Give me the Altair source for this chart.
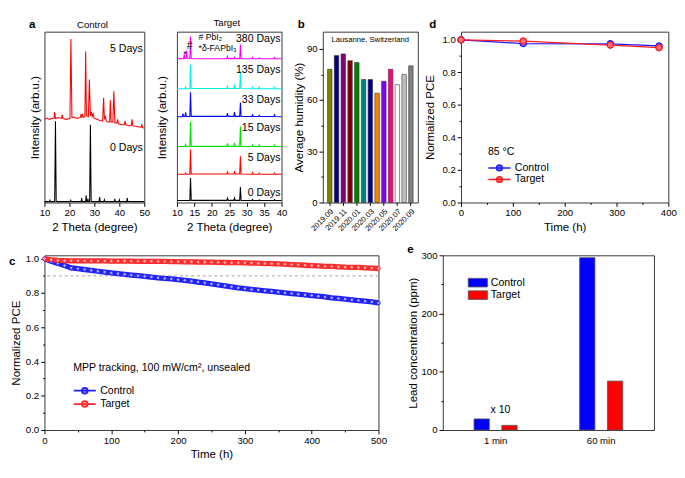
import altair as alt
import pandas as pd

FONT = "Liberation Sans"

# ---------------- panel a : XRD, Control film (2theta, intensity arb.u.) ----------------
ctrl_0days = [(10, 1), (12.0, 1), (12.2, 2.5), (12.4, 1), (14.1, 1), (14.4, 90), (14.7, 1),
              (20.3, 1), (20.5, 2.5), (20.7, 1), (24.7, 1), (24.9, 5), (25.1, 1), (26.5, 1),
              (26.7, 8), (26.9, 1), (27.2, 1), (27.4, 4), (27.6, 1), (28.1, 1), (28.4, 86),
              (28.7, 1), (31.9, 1), (32.1, 6), (32.3, 1), (33.8, 1), (34.0, 3), (34.2, 1),
              (38.0, 1), (38.2, 4), (38.4, 1), (39.8, 1), (40.0, 3), (40.2, 1), (43.0, 1),
              (43.2, 5), (43.4, 1), (50, 1)]
ctrl_5days = [(10, 92), (11, 93.5), (12, 92), (13, 93), (13.8, 93), (14.1, 100), (14.4, 93),
              (15.5, 94), (16.8, 93), (17.1, 97), (17.4, 93), (18.5, 92), (20.2, 93), (20.6, 181),
              (21.0, 94), (22, 94.5), (23, 93), (24.3, 94), (24.6, 97), (24.9, 95), (25.2, 98),
              (25.5, 94), (26.2, 95), (26.5, 167), (26.8, 96), (27.6, 95), (28.0, 136), (28.4, 96),
              (28.8, 100), (29.1, 95), (29.5, 98), (29.9, 93), (31, 92), (32, 91), (33.3, 90),
              (33.7, 116), (34.0, 92), (34.4, 95), (34.8, 90), (35.5, 89), (36.1, 89), (36.4, 113),
              (36.7, 89), (37.4, 89), (37.8, 123), (38.2, 88), (39.0, 88), (39.3, 92), (39.6, 87),
              (41, 86), (42.0, 86), (42.3, 90), (42.6, 86), (44, 85), (44.8, 85), (45.1, 92),
              (45.4, 85), (47, 84), (48.7, 83), (49, 86), (49.3, 83), (50, 82)]
a1_labels = ["5 Days", "0 Days"]
a1_label_theta = [49.4, 49.4]
a1_label_int = [170, 60]

# ---------------- panel a : XRD, Target film ----------------
tgt_380 = [(10, 160.5), (11.0, 160.9), (11.6, 160.7), (11.9, 160.8), (12.1, 165.7), (12.3, 160.8),
           (12.6, 161), (12.8, 170), (13.0, 161), (13.7, 161), (13.9, 185.7), (14.1, 161), (16, 160.7),
           (20, 160.8), (24.3, 160.8), (24.5, 163.3), (24.7, 160.9), (26.3, 160.9), (26.5, 162.7),
           (26.7, 160.9), (28.0, 160.9), (28.2, 176.7), (28.4, 160.9), (31.5, 160.8), (31.7, 162.2),
           (31.9, 160.8), (33.4, 160.8), (33.6, 162), (33.8, 160.8), (37.8, 160.8), (38.0, 162.2),
           (38.2, 160.8), (40, 160.7)]
tgt_135 = [(10, 127.3), (12.3, 127.3), (12.5, 129), (12.7, 127.3), (13.7, 127.3), (13.9, 154.3),
           (14.1, 127.4), (24.3, 127.4), (24.5, 130), (24.7, 127.4), (26.3, 127.4), (26.5, 132),
           (26.7, 127.4), (28.0, 127.4), (28.2, 146.7), (28.4, 127.4), (31.5, 127.3), (31.7, 129),
           (31.9, 127.3), (33.4, 127.3), (33.6, 129), (33.8, 127.3), (37.8, 127.3), (38.0, 129),
           (38.2, 127.3), (40, 127.3)]
tgt_33 = [(10, 96), (11.5, 96), (11.7, 99.3), (11.9, 96.2), (12.3, 96.2), (12.5, 100.7), (12.7, 96.2),
          (13.7, 96.2), (13.9, 123.3), (14.1, 96.3), (24.3, 96.3), (24.5, 100), (24.7, 96.3),
          (26.3, 96.3), (26.5, 101), (26.7, 96.3), (28.0, 96.3), (28.2, 111.7), (28.4, 96.3),
          (31.5, 96.2), (31.7, 98), (31.9, 96.2), (33.4, 96.2), (33.6, 97.5), (33.8, 96.2),
          (37.8, 96.2), (38.0, 98), (38.2, 96.2), (40, 96)]
tgt_15 = [(10, 62.7), (12.3, 62.7), (12.5, 65), (12.7, 62.7), (13.7, 62.7), (13.9, 90.7), (14.1, 62.8),
          (24.3, 62.8), (24.5, 66), (24.7, 62.8), (26.3, 62.8), (26.5, 66.7), (26.7, 62.8), (28.0, 62.8),
          (28.2, 85), (28.4, 62.8), (31.5, 62.7), (31.7, 64.5), (31.9, 62.7), (33.4, 62.7), (33.6, 64.5),
          (33.8, 62.7), (37.8, 62.7), (38.0, 64.5), (38.2, 62.7), (40, 62.7)]
tgt_5 = [(10, 31.7), (12.3, 31.7), (12.5, 33), (12.7, 31.7), (13.7, 31.7), (13.9, 59.3), (14.1, 31.8),
         (24.3, 31.8), (24.5, 34.3), (24.7, 31.8), (26.3, 31.8), (26.5, 35), (26.7, 31.8), (28.0, 31.8),
         (28.2, 51.7), (28.4, 31.8), (31.5, 31.7), (31.7, 33.5), (31.9, 31.7), (33.4, 31.7), (33.6, 33),
         (33.8, 31.7), (37.8, 31.7), (38.0, 33), (38.2, 31.7), (40, 31.7)]
tgt_0 = [(10, 2.3), (13.7, 2.3), (13.9, 27.3), (14.1, 2.4), (24.3, 2.4), (24.5, 5), (24.7, 2.4),
         (26.3, 2.4), (26.5, 5), (26.7, 2.4), (28.0, 2.4), (28.2, 17.3), (28.4, 2.4), (31.5, 2.3),
         (31.7, 3.5), (31.9, 2.3), (33.4, 2.3), (33.6, 3), (33.8, 2.3), (37.8, 2.3), (38.0, 3.5),
         (38.2, 2.3), (40, 2.3)]
a2_traces = ["380 Days", "135 Days", "33 Days", "15 Days", "5 Days", "0 Days"]
a2_colors = ["#ff00ff", "#00f0f0", "#0000ff", "#00e000", "#ff0000", "#000000"]
a2_label_theta = [39.7, 39.7, 39.7, 39.7, 39.7, 39.7]
a2_label_int = [183, 148, 114, 83, 50, 10]
a2_notes = ["# PbI\u2082", "*\u03b4-FAPbI\u2083", "#", "*"]
a2_note_theta = [16.2, 16.2, 12.8, 11.8]
a2_note_int = [185, 173, 175, 166]
a2_note_size = [9, 9, 11, 9]

# ---------------- panel b : average humidity ----------------
months = ["2019.09", "2019.10", "2019.11", "2019.12", "2020.01", "2020.02", "2020.03",
          "2020.04", "2020.05", "2020.06", "2020.07", "2020.08", "2020.09"]
humidity = [78, 86, 87, 83, 82, 72, 72, 64, 71, 78, 69, 75, 80]
bar_colors = ["#808000", "#000080", "#800080", "#800000", "#008000", "#008080", "#000090",
              "#ff8000", "#8000ff", "#ff0080", "#ffffff", "#c0c0c0", "#808080"]
b_label_months = ["2019.09", "2019.11", "2020.01", "2020.03", "2020.05", "2020.07", "2020.09"]

# ---------------- panel d : 85 C thermal stability ----------------
series = ["Control", "Target"]
d_time = [0, 120, 288, 382]
d_control = [1.0, 0.977, 0.975, 0.962]
d_control_lo = [1.0, 0.957, 0.971, 0.958]
d_control_hi = [1.0, 0.997, 0.979, 0.966]
d_target = [1.0, 0.992, 0.968, 0.952]

# ---------------- panel c : MPP tracking ----------------
c_time = [0, 10, 20, 30, 40, 50, 60, 70, 80, 90, 100, 110, 120, 130, 140, 150, 160, 170, 180, 190,
          200, 210, 220, 230, 240, 250, 260, 270, 280, 290, 300, 310, 320, 330, 340, 350, 360, 370,
          380, 390, 400, 410, 420, 430, 440, 450, 460, 470, 480, 490, 500]
c_control = [1.000, 0.985, 0.973, 0.960, 0.946, 0.942, 0.937, 0.932, 0.927, 0.922, 0.917, 0.913,
             0.909, 0.905, 0.901, 0.897, 0.893, 0.889, 0.885, 0.882, 0.878, 0.874, 0.869, 0.864,
             0.859, 0.853, 0.848, 0.842, 0.836, 0.830, 0.825, 0.821, 0.817, 0.813, 0.809, 0.805,
             0.801, 0.797, 0.793, 0.789, 0.785, 0.781, 0.777, 0.772, 0.768, 0.764, 0.760, 0.756,
             0.752, 0.748, 0.742]
c_target = [1.000, 0.994, 0.990, 0.989, 0.988, 0.988, 0.988, 0.987, 0.987, 0.987, 0.986, 0.986,
            0.986, 0.986, 0.985, 0.985, 0.984, 0.984, 0.984, 0.983, 0.983, 0.982, 0.982, 0.981,
            0.980, 0.980, 0.979, 0.978, 0.977, 0.977, 0.976, 0.975, 0.974, 0.972, 0.971, 0.970,
            0.968, 0.966, 0.964, 0.962, 0.960, 0.958, 0.956, 0.955, 0.953, 0.951, 0.950, 0.949,
            0.947, 0.945, 0.943]
c_threshold = [0.9]

# ---------------- panel e : lead leakage ----------------
e_times = ["1 min", "60 min"]
e_control = [19, 296]
e_target = [8, 84]
e_note = ["x 10"]
e_note_time = ["1 min"]
e_note_ppm = [34]

RECT = "M-2,-0.9H2V0.9H-2Z"
LINE_DOT = "M-2.3,0H2.3M0.6,0A0.6,0.6,0,1,1,-0.6,0A0.6,0.6,0,1,1,0.6,0"
H1, H2 = 178, 182


def ax(**kw):
    base = dict(labelFont=FONT, titleFont=FONT, labelFontSize=10, titleFontSize=12, titleFontWeight=400,
                labelColor="#000000", titleColor="#000000", tickColor="#000000", domain=False, grid=False,
                tickSize=4, labelPadding=2, labelOverlap=False, labelFlush=False, minExtent=0)
    base.update(kw)
    return alt.Axis(**base)


def minor(test):
    return {"condition": {"test": test, "value": 4}, "value": 2}


def trace_df(points, name):
    return pd.DataFrame({"theta": [p[0] for p in points], "I": [p[1] for p in points], "trace": name})


def label(txt, dx, dy, bold=True, size=12, align="left"):
    return alt.Chart(pd.DataFrame({"t": [txt]})).mark_text(
        fontWeight="bold" if bold else "normal", fontSize=size, font=FONT, align=align, baseline="middle"
    ).encode(text="t:N", x=alt.value(dx), y=alt.value(dy))


# ---------------- build panel a (control) ----------------
a1_df = pd.concat([trace_df(ctrl_0days, "0 Days"), trace_df(ctrl_5days, "5 Days")])
a1_lab = pd.DataFrame({"label": a1_labels, "theta": a1_label_theta, "I": a1_label_int})
a1_xax = ax(values=[10, 20, 30, 40, 50], title="2 Theta (degree)")
a1_yax = ax(labels=False, ticks=False, title="Intensity (arb.u.)", titlePadding=3)
a1_lines = alt.Chart(a1_df).mark_line(strokeWidth=1.1).encode(
    x=alt.X("theta:Q", scale=alt.Scale(domain=[10, 50], nice=False, zero=False), axis=a1_xax),
    y=alt.Y("I:Q", scale=alt.Scale(domain=[0, 189], nice=False), axis=a1_yax),
    color=alt.Color("trace:N", scale=alt.Scale(domain=["0 Days", "5 Days"], range=["#000000", "#ff0000"]),
                    legend=None),
)
a1_text = alt.Chart(a1_lab).mark_text(align="right", fontSize=11, font=FONT).encode(
    x=alt.X("theta:Q", axis=a1_xax), y=alt.Y("I:Q", axis=a1_yax), text="label:N")
a1 = alt.layer(a1_lines, a1_text, label("a", -16, -8),
               label("Control", 50, -7, bold=False, size=10, align="center")).properties(width=104, height=H1)

# ---------------- build panel a (target) ----------------
a2_df = pd.concat([trace_df(t, n) for t, n in zip([tgt_380, tgt_135, tgt_33, tgt_15, tgt_5, tgt_0], a2_traces)])
a2_lab = pd.DataFrame({"label": a2_traces, "theta": a2_label_theta, "I": a2_label_int})
a2_nt = pd.DataFrame({"label": a2_notes, "theta": a2_note_theta, "I": a2_note_int, "s": a2_note_size})
a2_xax = ax(values=[10, 15, 20, 25, 30, 35, 40], title="2 Theta (degree)")
a2_yax = ax(labels=False, ticks=False, title="Intensity (arb.u.)", titlePadding=9)
a2_lines = alt.Chart(a2_df).mark_line(strokeWidth=1.1).encode(
    x=alt.X("theta:Q", scale=alt.Scale(domain=[10, 40], nice=False, zero=False), axis=a2_xax),
    y=alt.Y("I:Q", scale=alt.Scale(domain=[0, 191], nice=False), axis=a2_yax),
    color=alt.Color("trace:N", scale=alt.Scale(domain=a2_traces, range=a2_colors), legend=None),
)
a2_text = alt.Chart(a2_lab).mark_text(align="right", fontSize=11, font=FONT).encode(
    x=alt.X("theta:Q", axis=a2_xax), y=alt.Y("I:Q", axis=a2_yax), text="label:N")
a2_notes_l = alt.Chart(a2_nt).mark_text(align="left", font=FONT).encode(
    x=alt.X("theta:Q", axis=a2_xax), y=alt.Y("I:Q", axis=a2_yax), text="label:N",
    size=alt.Size("s:Q", scale=None, legend=None))
a2 = alt.layer(a2_lines, a2_text, a2_notes_l,
               label("Target", 52, -9, bold=False, size=10, align="center")).properties(width=109, height=H1)

# ---------------- build panel b ----------------
b_df = pd.DataFrame({"month": months, "hum": humidity})
b_xax = ax(values=b_label_months, labelAngle=315, labelFontSize=8, title=None, tickSize=3)
b_yax = ax(values=[0, 15, 30, 45, 60, 75, 90], labelExpr="datum.value % 30 == 0 ? datum.label : ''",
           tickSize=minor("datum.value % 30 == 0"), title="Average humidity (%)", titlePadding=1)
b_bars = alt.Chart(b_df).mark_bar(stroke="#333333", strokeWidth=0.6).encode(
    x=alt.X("month:N", scale=alt.Scale(domain=months, paddingInner=0.34, paddingOuter=0.7), axis=b_xax),
    y=alt.Y("hum:Q", scale=alt.Scale(domain=[0, 100], nice=False), axis=b_yax),
    color=alt.Color("month:N", scale=alt.Scale(domain=months, range=bar_colors), legend=None),
)
b_text = alt.Chart(pd.DataFrame({"t": ["Lausanne, Switzerland"], "month": ["2020.03"], "hum": [95]})).mark_text(
    fontSize=8, font=FONT).encode(x=alt.X("month:N", axis=b_xax), y=alt.Y("hum:Q", axis=b_yax), text="t:N")
b = alt.layer(b_bars, b_text, label("b", -26, -8)).properties(width=99, height=H1)

# ---------------- build panel d ----------------
d_df = pd.DataFrame({"time": d_time * 2, "pce": d_control + d_target,
                     "series": ["Control"] * len(d_time) + ["Target"] * len(d_time)})
d_err = pd.DataFrame({"time": d_time, "pce": d_control_lo, "hi": d_control_hi})
d_legend = alt.Legend(title="85 \u00b0C", orient="none", legendX=28, legendY=120, symbolType=LINE_DOT,
                      symbolSize=100, symbolStrokeWidth=1.5, symbolOffset=6, labelOffset=10,
                      labelFontSize=11, labelFont=FONT, titleFontSize=11, titleFont=FONT, titleFontWeight=400,
                      titlePadding=5, rowPadding=0, padding=0)
d_xax = ax(values=[0, 50, 100, 150, 200, 250, 300, 350, 400],
           labelExpr="datum.value % 100 == 0 ? datum.label : ''",
           tickSize=minor("datum.value % 100 == 0"), title="Time (h)")
d_yax = ax(values=[0, 0.1, 0.2, 0.3, 0.4, 0.5, 0.6, 0.7, 0.8, 0.9, 1.0], format=".1f",
           labelExpr="round(datum.value * 10) % 2 == 0 ? datum.label : ''",
           tickSize=minor("round(datum.value * 10) % 2 == 0"), title="Normalized PCE", titlePadding=6)
d_stroke_scale = alt.Scale(domain=series, range=["#1c1cff", "#ff1c1c"])
d_pts = alt.Chart(d_df).mark_point(filled=True, size=40, strokeWidth=1.2, opacity=1).encode(
    x=alt.X("time:Q", scale=alt.Scale(domain=[0, 400], nice=False), axis=d_xax),
    y=alt.Y("pce:Q", scale=alt.Scale(domain=[0, 1.05], nice=False), axis=d_yax),
    fill=alt.Fill("series:N", scale=alt.Scale(domain=series, range=["#7070ff", "#ff7070"]), legend=d_legend),
    stroke=alt.Stroke("series:N", scale=d_stroke_scale, legend=d_legend),
)
d_line = alt.Chart(d_df).mark_line(strokeWidth=1.3).encode(
    x=alt.X("time:Q", axis=d_xax), y=alt.Y("pce:Q", axis=d_yax),
    stroke=alt.Stroke("series:N", scale=d_stroke_scale, legend=d_legend))
d_err_l = alt.Chart(d_err).mark_rule(color="#1c1cff").encode(
    x=alt.X("time:Q", axis=d_xax), y=alt.Y("pce:Q", axis=d_yax), y2="hi:Q")
d = alt.layer(d_pts, d_line, d_err_l, d_pts, label("d", -33, -8)).properties(width=216, height=H1)

# ---------------- build panel c ----------------
c_df = pd.DataFrame({"time": c_time * 2, "pce": c_control + c_target,
                     "series": ["Control"] * len(c_time) + ["Target"] * len(c_time)})
c_legend = alt.Legend(title="MPP tracking, 100 mW/cm\u00b2, unsealed", orient="none", legendX=30, legendY=112,
                      symbolType=LINE_DOT, symbolSize=100, symbolStrokeWidth=1.8, symbolOffset=6,
                      labelOffset=10, labelFontSize=11, labelFont=FONT, titleFontSize=11, titleFont=FONT,
                      titleFontWeight=400, titlePadding=12, rowPadding=0, padding=0, titleLimit=400)
c_xax = ax(values=[0, 50, 100, 150, 200, 250, 300, 350, 400, 450, 500],
           labelExpr="datum.value % 100 == 0 ? datum.label : ''",
           tickSize=minor("datum.value % 100 == 0"), title="Time (h)")
c_yax = ax(values=[0, 0.1, 0.2, 0.3, 0.4, 0.5, 0.6, 0.7, 0.8, 0.9, 1.0], format=".1f",
           labelExpr="round(datum.value * 10) % 2 == 0 ? datum.label : ''",
           tickSize=minor("round(datum.value * 10) % 2 == 0"), title="Normalized PCE", titlePadding=3)
c_stroke_scale = alt.Scale(domain=series, range=["#2020ff", "#ff2a2a"])
c_line = alt.Chart(c_df).mark_line(strokeWidth=5.5).encode(
    x=alt.X("time:Q", scale=alt.Scale(domain=[0, 500], nice=False), axis=c_xax),
    y=alt.Y("pce:Q", scale=alt.Scale(domain=[0, 1.02], nice=False), axis=c_yax),
    stroke=alt.Stroke("series:N", scale=c_stroke_scale, legend=c_legend),
)
c_rule = alt.Chart(pd.DataFrame({"pce": c_threshold})).mark_rule(
    strokeDash=[3, 3], color="#888888", strokeWidth=0.8).encode(y=alt.Y("pce:Q", axis=c_yax))
c_pts = alt.Chart(c_df).mark_point(filled=True, size=14, strokeWidth=1.0, opacity=1).encode(
    x=alt.X("time:Q", axis=c_xax), y=alt.Y("pce:Q", axis=c_yax),
    stroke=alt.Stroke("series:N", scale=c_stroke_scale, legend=c_legend),
    fill=alt.Fill("series:N", scale=alt.Scale(domain=series, range=["#a8acff", "#ffb0b0"]), legend=c_legend),
)
c = alt.layer(c_line, c_rule, c_pts, label("c", -37, 6)).properties(width=348, height=H2)

# ---------------- build panel e ----------------
e_df = pd.DataFrame({"time": e_times * 2, "ppm": e_control + e_target,
                     "series": ["Control"] * len(e_times) + ["Target"] * len(e_times)})
e_legend = alt.Legend(title=None, orient="none", legendX=26, legendY=23, symbolType=RECT, symbolSize=100,
                      symbolStrokeColor="#555555", symbolStrokeWidth=0.8, symbolOffset=5, labelOffset=8,
                      labelFontSize=11, labelFont=FONT, rowPadding=0, padding=0)
e_xax = ax(title=None, ticks=False, labelPadding=6, labelAngle=0)
e_yax = ax(values=[0, 50, 100, 150, 200, 250, 300], labelExpr="datum.value % 100 == 0 ? datum.label : ''",
           tickSize=minor("datum.value % 100 == 0"), title="Lead concentration (ppm)", titlePadding=2)
e_bars = alt.Chart(e_df).mark_bar(stroke="#555555", strokeWidth=0.8).encode(
    x=alt.X("time:N", scale=alt.Scale(domain=e_times, paddingInner=0.328, paddingOuter=0.164), axis=e_xax),
    xOffset=alt.XOffset("series:N", scale=alt.Scale(domain=series, paddingInner=0.45, paddingOuter=0.5)),
    y=alt.Y("ppm:Q", scale=alt.Scale(domain=[0, 300], nice=False), axis=e_yax),
    fill=alt.Fill("series:N", scale=alt.Scale(domain=series, range=["#0000ff", "#ff0000"]), legend=e_legend),
)
e_text = alt.Chart(pd.DataFrame({"t": e_note, "time": e_note_time, "ppm": e_note_ppm})).mark_text(
    fontSize=11, font=FONT, dx=5).encode(x=alt.X("time:N", axis=e_xax), y=alt.Y("ppm:Q", axis=e_yax), text="t:N")
e = alt.layer(e_bars, e_text, label("e", -37, -6)).properties(width=220, height=H2)

top = alt.hconcat(a1, a2, b, d, spacing=4).resolve_scale(color="independent", fill="independent",
                                                         stroke="independent")
bottom = alt.hconcat(c, e, spacing=16).resolve_scale(color="independent", fill="independent",
                                                     stroke="independent")

chart = alt.concat(top, bottom, columns=1, spacing=10).resolve_scale(
    color="independent", fill="independent", stroke="independent"
).properties(background="white", padding=0, align="none").configure_axis(
    labelOverlap=False, minExtent=0
).configure_view(stroke="#333333", strokeWidth=1)

chart.save("out.html", embed_options={"renderer": "svg", "actions": False})
